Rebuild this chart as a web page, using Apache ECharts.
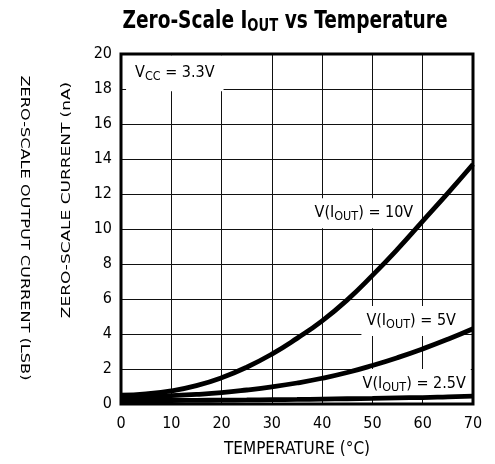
<!DOCTYPE html>
<html>
<head>
<meta charset="utf-8">
<script src="https://cdn.jsdelivr.net/npm/echarts@6/dist/echarts.min.js"></script>
<style>html,body{margin:0;padding:0;background:#fff}#c{width:495px;height:464px}</style>
</head>
<body>
<div id="c"></div>
<script>
var temps = [0,5,10,15,20,25,30,35,40,45,50,55,60,65,70];
var i10V = [0.5,0.58,0.75,1.05,1.5,2.1,2.85,3.75,4.75,5.95,7.35,8.85,10.45,12.05,13.7];
var i5V = [0.4,0.43,0.48,0.55,0.65,0.8,0.98,1.2,1.47,1.8,2.2,2.65,3.15,3.7,4.3];
var i25V = [0.2,0.2,0.2,0.21,0.22,0.23,0.25,0.26,0.28,0.3,0.32,0.35,0.37,0.41,0.45];
var xTicks = [0,10,20,30,40,50,60,70];
var yTicks = [0,2,4,6,8,10,12,14,16,18,20];

var FONT = "'DejaVu Sans Condensed', 'Liberation Sans Narrow', sans-serif";
function pairs(ys){ return temps.map(function(t,i){ return [t, ys[i]]; }); }
var rich = {
  n: {fontSize: 16, fontFamily: FONT, color: '#000', lineHeight: 20},
  s: {fontSize: 12.5, fontFamily: FONT, color: '#000', lineHeight: 20, padding: [7,0,0,0]}
};
function note(text, x, y, pad){
  return {
    coord: [x, y], symbol: 'rect', symbolSize: 0,
    label: {show: true, position: 'inside', align: 'center', verticalAlign: 'middle',
      formatter: text, rich: rich, backgroundColor: '#fff', padding: pad || [5, 5, 5, 5]}
  };
}
function line(name, ys, notes){
  return {
    type: 'line', name: name, data: pairs(ys), smooth: true, showSymbol: false,
    lineStyle: {color: '#000', width: 4.8}, z: 3,
    markPoint: {silent: true, z: 1, data: notes}
  };
}
var chart = echarts.init(document.getElementById('c'));
chart.setOption({
  animation: false,
  backgroundColor: '#fff',
  grid: {left: 121, right: 22, top: 54, bottom: 60, show: true, borderColor: '#000', borderWidth: 3, z: 4},
  xAxis: {
    type: 'value', min: xTicks[0], max: xTicks[xTicks.length-1], interval: 10,
    name: 'TEMPERATURE (°C)', nameLocation: 'middle', nameGap: 37,
    nameTextStyle: {fontFamily: FONT, fontSize: 17, color: '#000'},
    axisLine: {show: false}, axisTick: {show: false},
    axisLabel: {fontFamily: FONT, fontSize: 16, color: '#000', margin: 12},
    splitLine: {show: true, lineStyle: {color: '#111', width: 1}}
  },
  yAxis: {
    type: 'value', min: yTicks[0], max: yTicks[yTicks.length-1], interval: 2,
    axisLine: {show: false}, axisTick: {show: false},
    axisLabel: {fontFamily: FONT, fontSize: 16, color: '#000', margin: 9},
    splitLine: {show: true, lineStyle: {color: '#111', width: 1}}
  },
  graphic: [
    {type: 'text', x: 285, y: 22, scaleX: 0.86,
      style: {text: 'Zero-Scale I{s|OUT} vs Temperature', fontFamily: FONT, fontWeight: 'bold', fontSize: 24, fill: '#000',
        align: 'center', verticalAlign: 'middle',
        rich: {s: {fontFamily: FONT, fontWeight: 'bold', fontSize: 17, fill: '#000', padding: [9,0,0,0]}}}},
    {type: 'text', x: 67, y: 200, rotation: Math.PI/2, scaleX: 1.45,
      style: {text: 'ZERO-SCALE CURRENT (nA)', fontFamily: FONT, fontSize: 13, fill: '#000', align: 'center', verticalAlign: 'middle'}},
    {type: 'text', x: 24, y: 228, rotation: -Math.PI/2, scaleX: 1.38,
      style: {text: 'ZERO-SCALE OUTPUT CURRENT (LSB)', fontFamily: FONT, fontSize: 13, fill: '#000', align: 'center', verticalAlign: 'middle'}}
  ],
  series: [
    line('10V', i10V, [note('{n|V(I}{s|OUT}{n|) = 10V}', 48.3, 10.9), note('{n|V}{s|CC}{n| = 3.3V}', 10.7, 18.9, [8, 9, 8, 9])]),
    line('5V', i5V, [note('{n|V(I}{s|OUT}{n|) = 5V}', 57.7, 4.74)]),
    line('2.5V', i25V, [note('{n|V(I}{s|OUT}{n|) = 2.5V}', 58.3, 1.14)])
  ]
});
</script>
</body>
</html>
